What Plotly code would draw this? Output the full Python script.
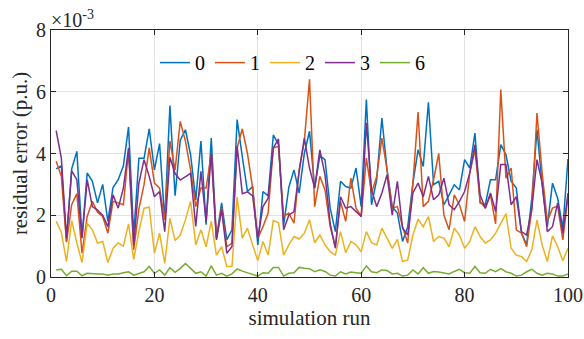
import plotly.graph_objects as go

runs = list(range(1, 101))

err_0 = [3.5, 3.6, 1.15, 3.5, 4.07, 1.3, 3.37, 3.1, 2.4, 3.0,
         1.8, 2.9, 3.15, 3.6, 4.86, 1.36, 3.85, 3.85, 4.8, 3.47,
         4.32, 1.85, 5.55, 2.63, 4.43, 4.77, 3.96, 2.5, 4.4, 1.69,
         4.5, 1.26, 2.4, 1.2, 1.53, 5.1, 3.9, 2.77, 2.93, 1.04,
         2.77, 2.63, 4.6, 4.29, 1.69, 2.9, 3.47, 2.72, 4.0, 4.72,
         2.88, 3.93, 3.8, 2.23, 1.47, 3.1, 2.93, 2.88, 3.53, 2.28,
         5.75, 2.34, 3.15, 5.15, 3.47, 2.28, 2.07, 1.15, 1.63, 3.04,
         4.12, 3.58, 5.66, 2.99, 3.1, 2.34, 2.66, 2.99, 2.82, 3.8,
         3.53, 4.66, 2.4, 2.34, 3.15, 3.15, 4.29, 3.96, 3.1, 2.88,
         1.42, 1.04, 2.55, 4.77, 2.99, 1.63, 3.04, 2.55, 1.58, 3.82]

err_1 = [3.75, 3.26, 1.13, 2.34, 2.7, 0.77, 1.96, 2.45, 2.1, 1.96,
         1.42, 2.45, 2.4, 2.34, 4.1, 0.88, 2.2, 3.0, 4.18, 3.04,
         2.88, 1.85, 4.4, 3.47, 5.04, 4.4, 3.47, 2.28, 2.88, 2.88,
         4.0, 1.26, 2.23, 0.98, 1.1, 4.18, 4.8, 4.0, 2.88, 1.26,
         1.63, 2.07, 4.18, 4.23, 1.96, 2.07, 1.74, 3.47, 4.4, 6.4,
         2.28, 3.26, 2.82, 1.63, 0.98, 2.45, 1.8, 3.2, 2.23, 1.96,
         3.85, 2.72, 3.26, 4.5, 3.47, 2.23, 2.28, 1.63, 1.1, 3.04,
         5.34, 2.28, 2.45, 3.15, 4.0, 2.0, 1.53, 2.66, 2.34, 1.8,
         3.37, 4.12, 2.45, 2.23, 2.66, 1.72, 6.07, 3.2, 3.53, 1.53,
         1.42, 0.98, 2.18, 5.31, 3.37, 1.8, 2.23, 2.3, 1.2, 2.6]

err_2 = [1.8, 1.45, 0.5, 1.83, 1.1, 0.47, 1.74, 1.53, 1.1, 1.15,
         0.47, 0.93, 1.1, 1.0, 1.72, 0.57, 1.47, 2.23, 2.26, 0.77,
         1.42, 0.44, 1.9, 1.18, 1.36, 1.85, 2.45, 1.04, 1.53, 0.98,
         1.8, 0.71, 0.98, 0.34, 0.34, 2.59, 1.26, 1.58, 1.04, 0.53,
         1.15, 0.71, 1.83, 1.76, 0.71, 1.04, 1.31, 1.23, 1.42, 1.85,
         1.11, 1.36, 1.04, 0.82, 0.71, 1.47, 0.79, 1.15, 1.04, 0.82,
         1.47, 1.11, 1.04, 1.58, 1.26, 0.93, 1.22, 0.5, 0.55, 1.36,
         1.87, 1.63, 1.96, 1.15, 1.31, 1.26, 0.98, 1.58, 1.36, 0.93,
         1.15, 1.63, 1.31, 1.1, 1.2, 1.42, 1.74, 2.05, 0.93, 0.71,
         0.66, 0.5, 0.88, 1.85, 1.04, 0.5, 1.33, 0.98, 0.53, 0.93]

err_3 = [4.74, 3.85, 1.26, 3.44, 3.15, 1.26, 3.15, 2.28, 2.17, 2.0,
         1.63, 2.66, 2.23, 2.88, 4.18, 1.04, 3.04, 3.8, 3.26, 2.6,
         2.77, 1.47, 3.88, 3.35, 3.14, 3.25, 3.36, 1.64, 3.42, 1.8,
         4.0, 1.2, 2.18, 0.77, 0.98, 4.25, 2.7, 2.76, 2.63, 1.26,
         2.28, 2.55, 4.18, 4.47, 1.53, 2.0, 2.12, 3.42, 4.5, 3.53,
         2.88, 4.12, 3.31, 1.74, 0.93, 2.6, 2.23, 2.28, 2.12, 1.96,
         4.99, 2.82, 2.28, 2.72, 3.31, 2.0, 3.1, 1.58, 1.36, 2.72,
         3.04, 2.6, 3.26, 2.5, 2.66, 3.2, 2.34, 2.18, 2.45, 2.77,
         3.37, 4.29, 2.66, 2.23, 2.72, 2.12, 3.64, 3.64, 2.34, 2.6,
         1.47, 1.36, 2.23, 3.8, 3.04, 1.47, 1.63, 2.4, 1.42, 2.72]

err_6 = [0.23, 0.25, 0.04, 0.19, 0.19, 0.04, 0.12, 0.1, 0.1, 0.1,
         0.06, 0.1, 0.1, 0.14, 0.17, 0.06, 0.12, 0.17, 0.34, 0.12,
         0.23, 0.06, 0.3, 0.15, 0.28, 0.44, 0.28, 0.12, 0.17, 0.03,
         0.36, 0.06, 0.12, 0.03, 0.1, 0.26, 0.19, 0.14, 0.1, 0.03,
         0.14, 0.12, 0.31, 0.31, 0.03, 0.12, 0.14, 0.31, 0.28, 0.27,
         0.17, 0.23, 0.18, 0.06, 0.03, 0.17, 0.1, 0.16, 0.14, 0.12,
         0.36, 0.17, 0.14, 0.23, 0.21, 0.1, 0.12, 0.03, 0.06, 0.23,
         0.1, 0.3, 0.12, 0.18, 0.16, 0.14, 0.1, 0.18, 0.25, 0.14,
         0.12, 0.34, 0.14, 0.12, 0.25, 0.17, 0.27, 0.17, 0.12, 0.03,
         0.06, 0.17, 0.25, 0.12, 0.06, 0.12, 0.1, 0.03, 0.03, 0.1]

series_names = ["0", "1", "2", "3", "6"]
series_colors = ["#0072BD", "#D95319", "#EDB120", "#7E2F8E", "#77AC30"]
scale = 1e-3

x_ticks = [0, 20, 40, 60, 80, 100]
y_ticks = [0, 2, 4, 6, 8]

FONT = "Liberation Serif, serif"
AX = "#262626"

fig = go.Figure()
for name, vals, col in zip(series_names, [err_0, err_1, err_2, err_3, err_6], series_colors):
    fig.add_trace(go.Scatter(
        x=runs, y=[v * scale for v in vals], mode="lines", name=name,
        line=dict(color=col, width=1.5)))

axis_common = dict(
    showline=True, linecolor=AX, linewidth=1, mirror="ticks",
    ticks="inside", ticklen=5, tickcolor=AX, tickwidth=1,
    showgrid=True, gridcolor="#e3e3e3", gridwidth=1, zeroline=False,
    automargin=False,
)

fig.update_layout(
    width=584, height=339,
    margin=dict(l=51, r=16, t=30, b=62, autoexpand=False),
    paper_bgcolor="white", plot_bgcolor="white",
    font=dict(family=FONT, size=20, color=AX),
    xaxis=dict(range=[0, 100], tickmode="array", tickvals=x_ticks,
               ticktext=[str(t) for t in x_ticks],
               tickfont=dict(family=FONT, size=20, color=AX),
               title=dict(text="simulation run", font=dict(family=FONT, size=21, color=AX), standoff=4),
               **axis_common),
    yaxis=dict(range=[0, 8 * scale], tickmode="array", tickvals=[t * scale for t in y_ticks],
               ticktext=[str(t) for t in y_ticks],
               tickfont=dict(family=FONT, size=20, color=AX),
               title=dict(text="residual error (p.u.)", font=dict(family=FONT, size=21, color=AX), standoff=2),
               **axis_common),
    legend=dict(orientation="h", x=0.467, xanchor="center", y=0.868, yanchor="middle",
                bgcolor="rgba(0,0,0,0)", font=dict(family=FONT, size=20, color="black"),
                itemwidth=30),
    showlegend=True,
)

fig.add_annotation(
    xref="paper", yref="paper", x=0, y=1, xanchor="left", yanchor="bottom",
    text="×10<sup>-3</sup>", showarrow=False,
    font=dict(family=FONT, size=20, color=AX), xshift=-2, yshift=-3)

fig.write_html("out.html", config={"displayModeBar": False},
               post_script="document.body.style.margin='0px';document.body.style.overflow='hidden';")
